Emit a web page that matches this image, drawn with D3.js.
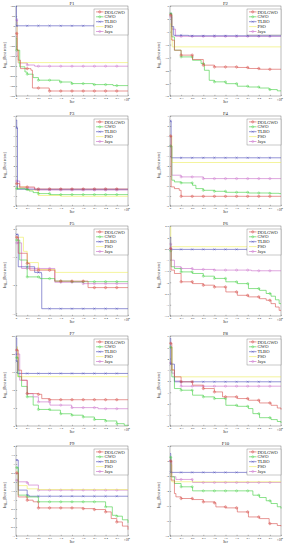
<!DOCTYPE html>
<html>
<head>
<meta charset="utf-8">
<script src="https://cdn.jsdelivr.net/npm/d3@7"></script>
<style>
  body { margin: 0; background: #fff; }
  svg { display: block; }
  text { font-family: "Liberation Serif", "DejaVu Serif", serif; fill: #222; }
</style>
</head>
<body>
<div id="root"></div>
<script>
// series, in legend order
const names = ['DOLGWO', 'GWO', 'TLBO', 'PSO', 'Jaya'];
const colors = ['#d9534f', '#3fcf3f', '#4a4ab8', '#eded5a', '#c86ac8'];
const titles = ['F1', 'F2', 'F3', 'F4', 'F5', 'F6', 'F7', 'F8', 'F9', 'F10'];
const xTicks = [0, 0.3, 0.6, 0.9, 1.2, 1.5, 1.8, 2.1, 2.4, 2.7, 3];
const markerX = [0.02, 0.3, 0.6, 0.9, 1.2, 1.5, 1.8, 2.1, 2.4, 2.7];
const yDomains = [[-350, 100], [-30, 5], [0, 9], [-8, 1], [-3.1, 0.1],
  [-3.5, 0.5], [0, 25], [-2, 6], [-1, 4], [-10, 2]];
const yStep = [50, 5, 1, 1, 1, 0.5, 5, 1, 0.5, 2];

// each panel: [DOLGWO, GWO, TLBO, PSO, Jaya], points are [iter/1e4, log10 best]
const f1 = [
  [[0, -37], [0.03, -120], [0.06, -171], [0.12, -213], [0.36, -213], [0.4, -221], [0.44, -310], [0.89, -325], [3, -325]],
  [[0, -60], [0.02, -121], [0.1, -204], [0.24, -230], [0.3, -241], [0.46, -258], [0.6, -271], [1.17, -280], [1.49, -288], [2.07, -293], [2.6, -298], [3, -298]],
  [[0, 100], [0.01, 40], [0.02, 1], [3, 1]],
  [[0, 20], [0.03, -120], [0.06, -183], [3, -183]],
  [[0, 30], [0.03, -150], [0.06, -185], [0.3, -195], [0.5, -201], [3, -201]]
];
const f2 = [
  [[0, 1.5], [0.05, -8.3], [0.12, -12.2], [0.3, -14.1], [0.61, -15.8], [0.9, -18], [1.2, -18.7], [1.82, -18.9], [2.12, -19.3], [2.42, -19.6], [3, -19.6]],
  [[0, 2], [0.05, -7], [0.12, -12.2], [0.3, -14.8], [0.61, -16.1], [0.84, -17.4], [0.93, -20], [1.06, -23.9], [1.2, -24.5], [1.51, -25.2], [1.82, -26.2], [2.12, -26.5], [2.42, -26.9], [2.68, -27.5], [2.9, -28], [3, -28]],
  [[0, 2], [0.04, -3], [0.1, -6.4], [0.5, -6.6], [3, -6.6]],
  [[0, -2], [0.03, -8], [0.06, -10.9], [3, -10.9]],
  [[0, 0.8], [0.05, -4], [0.15, -6.8], [3, -6.8]]
];
const f3 = [
  [[0, 2.24], [0.1, 1.9], [0.5, 1.7], [3, 1.7]],
  [[0, 1.74], [0.25, 1.65], [0.35, 1.5], [0.46, 1.34], [0.6, 1.24], [0.91, 1.14], [3, 1.14]],
  [[0, 8.6], [0.02, 7.8], [0.04, 1.67], [3, 1.67]],
  [[0, 1.9], [0.3, 1.6], [0.6, 1.05], [1.2, 0.97], [3, 0.97]],
  [[0, 2.5], [0.1, 1.8], [0.5, 1.6], [3, 1.6]]
];
const f4 = [
  [[0, -1], [0.03, -6.09], [0.12, -6.26], [0.25, -6.43], [0.3, -7.03], [3, -7.03]],
  [[0, -2], [0.05, -5.42], [0.12, -5.59], [0.3, -5.69], [0.61, -5.93], [0.7, -6.26], [0.9, -6.43], [1.2, -6.53], [1.51, -6.63], [2.12, -6.7], [2.7, -6.73], [2.95, -6.76], [3, -6.76]],
  [[0, 0.5], [0.03, -3.18], [3, -3.18]],
  [[0, -1], [0.05, -3.65], [3, -3.65]],
  [[0, -2], [0.05, -4.92], [0.3, -5.09], [0.9, -5.26], [3, -5.26]]
];
const f5 = [
  [[0, -0.3], [0.06, -0.87], [0.3, -1.23], [0.37, -1.47], [1.04, -1.86], [1.93, -2.09], [3, -2.09]],
  [[0, -0.4], [0.1, -1.11], [0.3, -1.71], [0.64, -1.77], [1.04, -1.86], [1.5, -1.88], [3, -1.88]],
  [[0, -0.2], [0.06, -1.35], [0.3, -1.35], [0.5, -1.55], [0.68, -1.6], [0.69, -2.84], [3, -2.84]],
  [[0, -0.3], [0.2, -0.8], [0.3, -1.2], [0.6, -1.45], [1.05, -1.55], [3, -1.55]],
  [[0, -0.5], [0.15, -1.41], [1.04, -1.9], [1.8, -1.95], [3, -1.95]]
];
const f6 = [
  [[0, -0.5], [0.03, -1.46], [0.12, -1.61], [0.3, -1.98], [0.61, -2.06], [0.9, -2.13], [1.2, -2.21], [1.51, -2.43], [1.82, -2.58], [2.12, -2.65], [2.42, -2.73], [2.6, -2.8], [2.73, -2.95], [2.85, -3.1], [2.95, -3.25], [3, -3.25]],
  [[0, -0.6], [0.03, -1.31], [0.12, -1.39], [0.3, -1.54], [0.61, -1.61], [0.9, -1.73], [1.2, -1.83], [1.51, -1.98], [1.82, -2.06], [2.12, -2.28], [2.42, -2.36], [2.6, -2.5], [2.73, -2.62], [2.85, -2.78], [2.95, -2.95], [3, -2.95]],
  [[0, 0], [0.02, -0.54], [3, -0.54]],
  [[0, 0.45], [0.02, -0.42], [3, -0.42]],
  [[0, -0.3], [0.03, -1.02], [0.12, -1.31], [0.3, -1.39], [0.61, -1.43], [1.2, -1.46], [2.2, -1.49], [3, -1.49]]
];
const f7 = [
  [[0, 21.1], [0.06, 15.5], [0.15, 12.7], [0.3, 9.0], [0.6, 8.8], [0.69, 7.6], [0.89, 7.3], [3, 7.3]],
  [[0, 19], [0.06, 13.7], [0.15, 11], [0.3, 8.1], [0.46, 5.8], [0.6, 4.6], [0.91, 4.4], [1.19, 3.4], [1.49, 3.0], [1.8, 2.5], [2.1, 1.8], [2.4, 1.4], [2.7, 0.65], [2.9, 0.2], [3, 0.2]],
  [[0, 24.5], [0.02, 18], [0.04, 14.6], [3, 14.6]],
  [[0, 22], [0.04, 13.7], [3, 13.7]],
  [[0, 20], [0.1, 12.7], [0.3, 9.0], [0.46, 8.1], [0.6, 6.7], [0.91, 5.8], [1.49, 5.1], [2.2, 4.8], [3, 4.8]]
];
const f8 = [
  [[0, 5.35], [0.05, 2.97], [0.12, 2.37], [0.3, 1.93], [0.61, 1.63], [0.9, 1.33], [1.2, 1.03], [1.42, 0.59], [1.82, 0.44], [2.12, 0.29], [2.42, 0.05], [2.73, -0.16], [2.9, -0.4], [3, -0.54]],
  [[0, 5], [0.05, 2.37], [0.12, 1.33], [0.3, 1.18], [0.61, 0.74], [0.9, 0.59], [1.2, 0.44], [1.51, -0.16], [1.82, -0.25], [2.12, -0.45], [2.24, -0.9], [2.42, -1.26], [2.73, -1.43], [2.9, -1.6], [3, -1.73]],
  [[0, 5.8], [0.02, 3.5], [0.12, 1.93], [3, 1.93]],
  [[0, 5], [0.05, 3], [0.12, 2.37], [3, 2.37]],
  [[0, 3.6], [0.05, 2.7], [0.12, 2.0], [0.3, 1.54], [3, 1.54]]
];
const f9 = [
  [[0, 2.5], [0.06, 1.17], [0.3, 0.99], [0.46, 0.9], [0.6, 0.56], [1.8, 0.52], [2.1, 0.47], [2.4, 0.34], [2.55, -0.03], [2.7, -0.22], [2.85, -0.45], [3, -0.65]],
  [[0, 2.8], [0.06, 1.27], [0.3, 1.17], [0.6, 0.9], [2.4, 0.62], [2.58, 0.15], [2.7, 0.1], [2.85, -0.1], [3, -0.27]],
  [[0, 3.22], [0.06, 1.55], [0.3, 1.27], [0.35, 1.21], [3, 1.21]],
  [[0, 2.6], [0.06, 1.8], [0.3, 1.62], [0.6, 1.58], [3, 1.58]],
  [[0, 2.1], [0.06, 2.01], [0.3, 1.96], [0.33, 1.83], [0.6, 1.55], [3, 1.55]]
];
const f10 = [
  [[0, 0], [0.03, -2.55], [0.12, -4.34], [0.16, -4.78], [0.3, -5.0], [0.61, -5.14], [0.9, -5.45], [1.2, -5.58], [1.24, -6.12], [1.51, -6.25], [1.82, -6.79], [2.12, -7.46], [2.42, -7.68], [2.68, -8.35], [2.9, -8.6], [3, -8.7]],
  [[0, 0.5], [0.03, -2.1], [0.12, -3.0], [0.3, -3.44], [0.61, -3.98], [2.12, -3.98], [2.24, -4.56], [2.42, -4.87], [2.6, -5.3], [2.73, -5.67], [2.9, -6.1], [3, -6.34]],
  [[0, 1], [0.02, -1.52], [3, -1.52]],
  [[0, -0.5], [0.05, -2.77], [3, -2.77]],
  [[0, 0], [0.05, -2.1], [0.16, -2.46], [0.61, -2.86], [3, -2.86]]
];
const panels = [f1, f2, f3, f4, f5, f6, f7, f8, f9, f10];

const symbols = [d3.symbolCross, d3.symbolCircle, d3.symbolTimes, null, d3.symbolCircle];

const svg = d3.select('#root').append('svg')
  .attr('width', 286)
  .attr('height', 550);

// step value at a given x
function valueAt(pts, x) {
  let v = pts[0][1];
  for (const p of pts) { if (p[0] <= x) v = p[1]; }
  return v;
}

const fmt = v => String(+v.toFixed(2));

panels.forEach((series, i) => {
  const col = i % 2, row = Math.floor(i / 2);
  const x0 = col ? 170 : 16, x1 = col ? 281 : 128;
  const y0 = row * 110 + 6, y1 = row * 110 + 96;
  const [lo, hi] = yDomains[i];

  const x = d3.scaleLinear().domain([0, 3]).range([x0, x1]);
  const y = d3.scaleLinear().domain([lo, hi]).range([y1, y0]);
  const yTicks = d3.range(Math.ceil(lo / yStep[i] - 1e-9) * yStep[i], hi + 1e-9, yStep[i]);

  const g = svg.append('g');

  g.append('rect')
    .attr('x', x0).attr('y', y0)
    .attr('width', x1 - x0).attr('height', y1 - y0)
    .attr('fill', 'none').attr('stroke', '#555').attr('stroke-width', 0.4);

  const xa = g.append('g')
    .attr('transform', `translate(0,${y1})`)
    .call(d3.axisBottom(x).tickValues(xTicks).tickFormat(fmt)
      .tickSizeInner(-1.2).tickSizeOuter(0).tickPadding(1.2));
  const ya = g.append('g')
    .attr('transform', `translate(${x0},0)`)
    .call(d3.axisLeft(y).tickValues(yTicks).tickFormat(fmt)
      .tickSizeInner(-1.2).tickSizeOuter(0).tickPadding(1.2));
  [xa, ya].forEach(a => {
    a.select('.domain').remove();
    a.selectAll('line').attr('stroke', '#555').attr('stroke-width', 0.4);
    a.selectAll('text').attr('font-size', 2.8).attr('fill', '#444')
      .style('font-family', '"Liberation Serif", serif');
  });

  const line = d3.line()
    .x(d => x(d[0]))
    .y(d => y(d[1]))
    .curve(d3.curveStepAfter);

  // draw back to front so DOLGWO sits on top
  for (let s = series.length - 1; s >= 0; s--) {
    g.append('path')
      .attr('d', line(series[s]))
      .attr('fill', 'none')
      .attr('stroke', colors[s])
      .attr('stroke-width', 0.6);
    if (symbols[s]) {
      const sym = d3.symbol().type(symbols[s]).size(3.5);
      g.selectAll(null)
        .data(markerX)
        .join('path')
        .attr('d', sym)
        .attr('transform', d => `translate(${x(d)},${y(valueAt(series[s], d))})`)
        .attr('fill', 'none')
        .attr('stroke', colors[s])
        .attr('stroke-width', 0.4);
    }
  }

  // title & labels
  g.append('text')
    .attr('x', (x0 + x1) / 2).attr('y', y0 - 1.2)
    .attr('text-anchor', 'middle').attr('font-size', 4.8)
    .text(titles[i]);

  g.append('text')
    .attr('x', (x0 + x1) / 2).attr('y', y1 + 7)
    .attr('text-anchor', 'middle').attr('font-size', 3.4)
    .text('Iter');

  const xp = g.append('text')
    .attr('x', x1 - 4).attr('y', y1 + 4.6)
    .attr('font-size', 3);
  xp.append('tspan').text('×10');
  xp.append('tspan').attr('dy', -1.2).attr('font-size', 2.2).text('4');

  const yl = g.append('text')
    .attr('transform', `translate(${x0 - 10},${(y0 + y1) / 2 + 4}) rotate(-90)`)
    .attr('text-anchor', 'middle').attr('font-size', 3.8);
  yl.append('tspan').text('log');
  yl.append('tspan').attr('dy', 1).attr('font-size', 2.8).text('10');
  yl.append('tspan').attr('dy', -1).text('(Best score)');

  // legend
  const bw = 34, bh = 26;
  const bx = x1 - bw, by = y0 + 3;
  const lg = g.append('g');
  lg.append('rect')
    .attr('x', bx).attr('y', by)
    .attr('width', bw).attr('height', bh)
    .attr('fill', '#fff').attr('stroke', '#777').attr('stroke-width', 0.4);
  names.forEach((n, s) => {
    const ly = by + 2.9 + s * 4.9;
    lg.append('line')
      .attr('x1', bx + 2).attr('x2', bx + 9.5)
      .attr('y1', ly).attr('y2', ly)
      .attr('stroke', colors[s]).attr('stroke-width', 0.6);
    if (symbols[s]) {
      lg.append('path')
        .attr('d', d3.symbol().type(symbols[s]).size(3.5))
        .attr('transform', `translate(${bx + 5.75},${ly})`)
        .attr('fill', 'none').attr('stroke', colors[s]).attr('stroke-width', 0.4);
    }
    lg.append('text')
      .attr('x', bx + 10.5).attr('y', ly + 1.6)
      .attr('font-size', 4.6)
      .text(n);
  });
});
</script>
</body>
</html>
